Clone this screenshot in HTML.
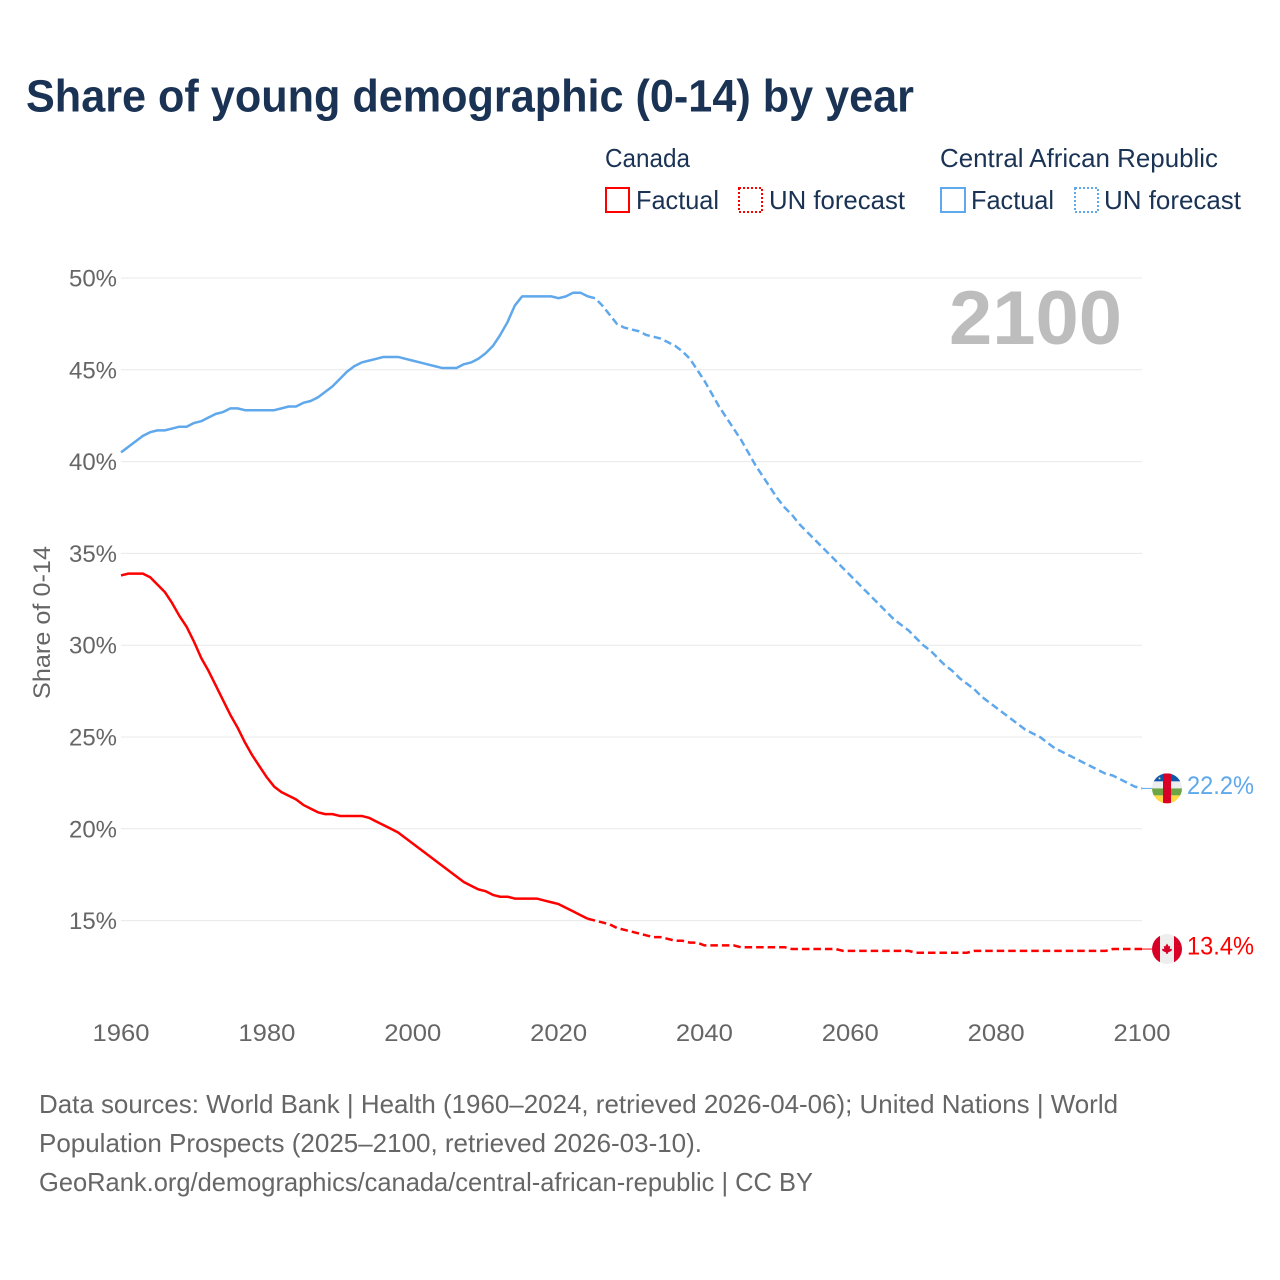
<!DOCTYPE html>
<html lang="en">
<head>
<meta charset="utf-8">
<title>Share of young demographic (0-14) by year</title>
<style>
html,body{margin:0;padding:0;background:#fff}
svg{display:block}
text{font-family:"Liberation Sans",sans-serif}
</style>
</head>
<body>
<svg id="chart" width="1280" height="1280" viewBox="0 0 1280 1280" xmlns="http://www.w3.org/2000/svg">
<defs>
<clipPath id="flag-clip"><circle cx="0" cy="0" r="15"/></clipPath>
</defs>
<rect width="1280" height="1280" fill="#fff"/>
<text x="26" y="111.500" font-size="45" font-weight="700" fill="#1a3354" textLength="888" lengthAdjust="spacingAndGlyphs">Share of young demographic (0-14) by year</text>

<g font-size="26" fill="#1a3354">
<text x="605" y="167" textLength="85" lengthAdjust="spacingAndGlyphs">Canada</text>
<text x="940" y="167" textLength="278" lengthAdjust="spacingAndGlyphs">Central African Republic</text>
<rect x="606" y="188" width="23" height="24" fill="none" stroke="#ff0000" stroke-width="2"/>
<text x="636" y="209" textLength="83" lengthAdjust="spacingAndGlyphs">Factual</text>
<rect x="739" y="188" width="23" height="24" fill="none" stroke="#ff0000" stroke-width="2" stroke-dasharray="2 2"/>
<text x="769" y="209" textLength="136" lengthAdjust="spacingAndGlyphs">UN forecast</text>
<rect x="941" y="188" width="24" height="24" fill="none" stroke="#5fa8ec" stroke-width="2"/>
<text x="971" y="209" textLength="83" lengthAdjust="spacingAndGlyphs">Factual</text>
<rect x="1075" y="188" width="23" height="24" fill="none" stroke="#5fa8ec" stroke-width="2" stroke-dasharray="2 2"/>
<text x="1104" y="209" textLength="137" lengthAdjust="spacingAndGlyphs">UN forecast</text>
</g>

<g id="grid"></g>
<g id="y-ticks"></g>
<g id="x-ticks"></g>
<text transform="translate(50,699) rotate(-90)" font-size="24" fill="#666666" textLength="153" lengthAdjust="spacingAndGlyphs">Share of 0-14</text>
<text x="949" y="344" font-size="76" font-weight="700" fill="#bdbdbd" textLength="173" lengthAdjust="spacingAndGlyphs">2100</text>

<g id="series"></g>

<g id="flag-car">
<g clip-path="url(#flag-clip)">
<rect x="-15" y="-15" width="30" height="8" fill="#0f56ad"/>
<rect x="-15" y="-7" width="30" height="7" fill="#eeeeee"/>
<rect x="-15" y="0" width="30" height="7" fill="#6da544"/>
<rect x="-15" y="7" width="30" height="8" fill="#ffda44"/>
<rect x="-4" y="-15" width="8" height="30" fill="#d80027"/>
<circle cx="-7.500" cy="-10" r="1" fill="#ffda44"/>
</g>
</g>
<g id="flag-canada">
<g clip-path="url(#flag-clip)">
<rect x="-15" y="-15" width="30" height="30" fill="#eeeeee"/>
<rect x="-15" y="-15" width="8" height="30" fill="#d80027"/>
<rect x="7" y="-15" width="8" height="30" fill="#d80027"/>
<polygon points="0,-5.500 1.800,-2.500 3.200,-3.200 2.800,0 5,-0.300 4.500,1.800 1,3.500 0.600,5 -0.600,5 -1,3.500 -4.500,1.800 -5,-0.300 -2.800,0 -3.200,-3.200 -1.800,-2.500" fill="#d80027"/>
</g>
</g>
<g id="end-labels"></g>

<g font-size="26" fill="#666666">
<text x="39" y="1113" textLength="1079" lengthAdjust="spacingAndGlyphs">Data sources: World Bank | Health (1960–2024, retrieved 2026-04-06); United Nations | World</text>
<text x="39" y="1152" textLength="663" lengthAdjust="spacingAndGlyphs">Population Prospects (2025–2100, retrieved 2026-03-10).</text>
<text x="39" y="1191" textLength="774" lengthAdjust="spacingAndGlyphs">GeoRank.org/demographics/canada/central-african-republic | CC BY</text>
</g>
</svg>

<script>
const yTickValues = [50, 45, 40, 35, 30, 25, 20, 15];
const xTickValues = [1960, 1980, 2000, 2020, 2040, 2060, 2080, 2100];
const startYear = 1960;
const lastFactualYear = 2024;

const canadaValues = [
33.8,33.9,33.9,33.9,33.7,33.3,32.9,32.3,31.6,31.0,
30.2,29.3,28.6,27.8,27.0,26.2,25.5,24.7,24.0,23.4,
22.8,22.3,22.0,21.8,21.6,21.3,21.1,20.9,20.8,20.8,
20.7,20.7,20.7,20.7,20.6,20.4,20.2,20.0,19.8,19.5,
19.2,18.9,18.6,18.3,18.0,17.7,17.4,17.1,16.9,16.7,
16.6,16.4,16.3,16.3,16.2,16.2,16.2,16.2,16.1,16.0,
15.9,15.7,15.5,15.3,15.1,
15.0,14.9,14.8,14.6,14.5,14.4,14.3,14.2,14.1,14.1,
14.0,13.9,13.9,13.8,13.8,13.65,13.65,13.65,13.65,13.65,
13.55,13.55,13.55,13.55,13.55,13.55,13.55,13.45,13.45,13.45,
13.45,13.45,13.45,13.45,13.35,13.35,13.35,13.35,13.35,13.35,
13.35,13.35,13.35,13.35,13.25,13.25,13.25,13.25,13.25,13.25,
13.25,13.25,13.35,13.35,13.35,13.35,13.35,13.35,13.35,13.35,
13.35,13.35,13.35,13.35,13.35,13.35,13.35,13.35,13.35,13.35,
13.35,13.45,13.45,13.45,13.45,13.45
];

const carValues = [
40.5,40.8,41.1,41.4,41.6,41.7,41.7,41.8,41.9,41.9,
42.1,42.2,42.4,42.6,42.7,42.9,42.9,42.8,42.8,42.8,
42.8,42.8,42.9,43.0,43.0,43.2,43.3,43.5,43.8,44.1,
44.5,44.9,45.2,45.4,45.5,45.6,45.7,45.7,45.7,45.6,
45.5,45.4,45.3,45.2,45.1,45.1,45.1,45.3,45.4,45.6,
45.9,46.3,46.9,47.6,48.5,49.0,49.0,49.0,49.0,49.0,
48.9,49.0,49.2,49.2,49.0,
48.9,48.5,48.0,47.5,47.3,47.2,47.1,46.9,46.8,46.7,
46.5,46.3,46.0,45.6,45.0,44.4,43.7,43.0,42.4,41.8,
41.2,40.5,39.8,39.2,38.6,38.0,37.5,37.1,36.6,36.2,
35.8,35.4,35.0,34.6,34.2,33.8,33.4,33.0,32.6,32.2,
31.8,31.4,31.1,30.8,30.4,30.0,29.7,29.3,28.9,28.6,
28.2,27.9,27.6,27.2,26.9,26.6,26.3,26.0,25.7,25.4,
25.2,25.0,24.7,24.4,24.2,24.0,23.8,23.6,23.4,23.2,
23.0,22.9,22.7,22.5,22.3,22.2
];

const NS = 'http://www.w3.org/2000/svg';
function xScale(year) { return 121 + (year - 1960) * 7.293; }
function yScale(value) { return 278 + (50 - value) * 18.36; }

function linePath(values, fromYear, toYear) {
  let d = '';
  for (let yr = fromYear; yr <= toYear; yr++) {
    const v = values[yr - startYear];
    d += (d ? 'L' : 'M') + xScale(yr).toFixed(2) + ' ' + yScale(v).toFixed(2);
  }
  return d;
}

const gridGroup = document.getElementById('grid');
const yTickGroup = document.getElementById('y-ticks');
yTickValues.forEach(function (v) {
  const ln = document.createElementNS(NS, 'line');
  
  
  ln.setAttribute('x1', xScale(1960));
  ln.setAttribute('x2', xScale(2100));
  ln.setAttribute('y1', yScale(v));
  ln.setAttribute('y2', yScale(v));
  ln.setAttribute('stroke', '#e8e8e8');
  ln.setAttribute('stroke-width', '1');
  gridGroup.appendChild(ln);

  const t = document.createElementNS(NS, 'text');
  
  
  t.setAttribute('x', 69);
  t.setAttribute('y', yScale(v) + 8.5);
  t.setAttribute('font-size', '24');
  t.setAttribute('fill', '#666666');
  t.setAttribute('textLength', '48');
  t.setAttribute('lengthAdjust', 'spacingAndGlyphs');
  t.textContent = v + '%';
  yTickGroup.appendChild(t);
});

const xTickGroup = document.getElementById('x-ticks');
xTickValues.forEach(function (yr) {
  const t = document.createElementNS(NS, 'text');
  
  
  t.setAttribute('x', xScale(yr) - 28.5);
  t.setAttribute('y', 1041);
  t.setAttribute('font-size', '24');
  t.setAttribute('fill', '#666666');
  t.setAttribute('textLength', '57');
  t.setAttribute('lengthAdjust', 'spacingAndGlyphs');
  t.textContent = yr;
  xTickGroup.appendChild(t);
});

const seriesGroup = document.getElementById('series');
function addSeries(name, values, color) {
  const solid = document.createElementNS(NS, 'path');
  
  
  solid.setAttribute('d', linePath(values, startYear, lastFactualYear));
  solid.setAttribute('fill', 'none');
  solid.setAttribute('stroke', color);
  solid.setAttribute('stroke-width', '2.5');
  solid.setAttribute('stroke-linejoin', 'round');
  seriesGroup.appendChild(solid);

  const dashed = document.createElementNS(NS, 'path');
  
  
  dashed.setAttribute('d', linePath(values, lastFactualYear, 2100));
  dashed.setAttribute('fill', 'none');
  dashed.setAttribute('stroke', color);
  dashed.setAttribute('stroke-width', '2.5');
  dashed.setAttribute('stroke-dasharray', '7.5 4');
  seriesGroup.appendChild(dashed);

  const lastValue = values[2100 - startYear];
  const connector = document.createElementNS(NS, 'line');
  
  
  connector.setAttribute('x1', xScale(2100));
  connector.setAttribute('x2', 1153);
  connector.setAttribute('y1', yScale(lastValue));
  connector.setAttribute('y2', yScale(lastValue));
  connector.setAttribute('stroke', color);
  connector.setAttribute('stroke-width', '1');
  seriesGroup.appendChild(connector);

  const label = document.createElementNS(NS, 'text');
  
  
  label.setAttribute('x', 1187);
  label.setAttribute('y', yScale(lastValue) + 5.5);
  label.setAttribute('font-size', '25');
  label.setAttribute('fill', color);
  label.setAttribute('textLength', '67');
  label.setAttribute('lengthAdjust', 'spacingAndGlyphs');
  label.textContent = lastValue.toFixed(1) + '%';
  document.getElementById('end-labels').appendChild(label);
}
addSeries('canada', canadaValues, '#ff0000');
addSeries('car', carValues, '#5fa8ec');

document.getElementById('flag-car').setAttribute('transform', 'translate(1167,' + yScale(carValues[carValues.length - 1]) + ')');
document.getElementById('flag-canada').setAttribute('transform', 'translate(1167,' + yScale(canadaValues[canadaValues.length - 1]) + ')');
</script>
</body>
</html>
